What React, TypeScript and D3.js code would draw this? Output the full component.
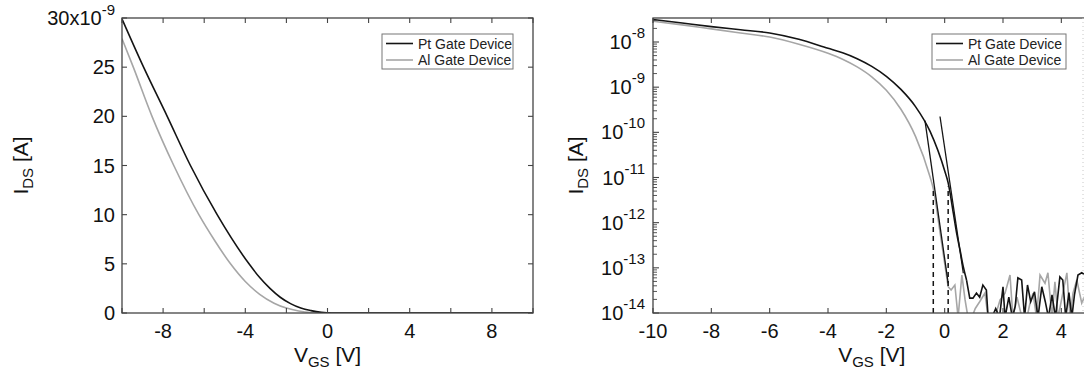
import * as d3 from 'd3';

// left panel: linear I-V, current in units of 1e-9 A
const ptLinV = [-10, -8.95, -7.8, -6.67, -5.37, -3.82, -3.3, -2.8, -2.3, -1.8, -1.3, -0.8, -0.3, 0.2, 10];
const ptLinI = [29.9, 25, 20, 15, 10, 5, 3.6, 2.5, 1.6, 0.95, 0.5, 0.24, 0.07, 0, 0];
const alLinV = [-10, -9.45, -8.54, -7.48, -6.26, -5.5, -4.72, -4, -3.3, -2.6, -2, -1.4, -0.8, 0, 10];
const alLinI = [27.9, 25, 20, 15, 10, 7.4, 5, 3.2, 1.9, 1.0, 0.5, 0.2, 0.05, 0, 0];

// right panel: log I-V, stored as log10(I)
const ptLogV = [-10, -9, -8, -7, -6, -5, -4, -3.5, -3, -2.5, -2, -1.5, -1, -0.5, 0, 0.12, 0.3, 0.41, 0.54, 0.64, 0.75];
const ptLogE = [-7.5, -7.58, -7.66, -7.73, -7.8, -7.94, -8.14, -8.24, -8.37, -8.54, -8.76, -9.05, -9.43, -9.98, -10.85, -11.12, -11.8, -12.23, -12.65, -12.98, -13.27];
const alLogV = [-10, -9, -8, -7, -6, -5, -4, -3.5, -3, -2.5, -2, -1.5, -1, -0.5, -0.39, -0.15, 0.12];
const alLogE = [-7.54, -7.62, -7.71, -7.8, -7.89, -8.05, -8.25, -8.38, -8.55, -8.77, -9.07, -9.49, -10.09, -10.99, -11.25, -12.25, -13.42];

// noise floor after turn-off
const ptNoiseV = [0.75, 0.86, 0.97, 1.09, 1.2, 1.31, 1.43, 1.49, 1.62, 1.75, 1.88, 2.0, 2.07, 2.2, 2.32, 2.42, 2.51, 2.64, 2.74, 2.84, 2.95, 3.08, 3.2, 3.33, 3.45, 3.56, 3.68, 3.8, 3.95, 4.05, 4.15, 4.26, 4.36, 4.45, 4.57, 4.7, 4.82, 5.0];
const ptNoiseE = [-13.27, -13.67, -13.67, -13.56, -13.65, -13.38, -13.49, -14.1, -14.1, -13.9, -14.1, -13.42, -14.1, -13.65, -14.1, -13.85, -13.22, -13.27, -14.1, -13.38, -13.75, -13.53, -14.1, -13.42, -13.75, -14.1, -13.6, -14.1, -13.2, -13.27, -14.1, -13.55, -14.1, -13.6, -13.16, -13.11, -13.16, -13.3];
const alNoiseV = [0.12, 0.22, 0.35, 0.46, 0.59, 0.7, 0.8, 0.93, 1.05, 1.2, 1.38, 1.49, 1.6, 1.72, 1.9, 2.07, 2.24, 2.34, 2.48, 2.65, 2.82, 2.92, 3.03, 3.15, 3.27, 3.44, 3.54, 3.68, 3.78, 3.89, 4.05, 4.19, 4.3, 4.4, 4.53, 4.7, 4.9, 5.0];
const alNoiseE = [-13.42, -13.49, -13.38, -14.1, -13.16, -13.71, -14.1, -14.1, -13.9, -13.75, -13.56, -14.1, -14.1, -14.1, -13.71, -13.56, -13.16, -14.1, -13.65, -14.1, -14.1, -13.8, -13.56, -14.1, -13.16, -13.34, -13.11, -14.1, -13.31, -14.1, -13.56, -13.11, -14.1, -13.56, -13.27, -13.78, -13.49, -13.6];

// subthreshold slope fit lines [V, log10 I] and dashed markers [V, top log10 I]
const fitLines = [
  [[-0.675, -9.74], [0.12, -13.34]],
  [[-0.16, -9.65], [0.64, -13.12]],
];
const dashedMarks = [[-0.39, -11.3], [0.12, -11.2]];

const legendLabels = ['Pt Gate Device', 'Al Gate Device'];
const linXTicks = d3.range(-10, 10.01, 2);
const linXLabels = [-8, -4, 0, 4, 8];
const linYTicks = [0, 5, 10, 15, 20, 25, 30];
const logXTicks = d3.range(-10, 4.01, 2);
const logYExps = [-14, -13, -12, -11, -10, -9, -8];

const FONT = "'Liberation Sans', Arial, sans-serif";
const BLACK = '#141414';
const GRAY = '#a6a6a6';
const FRAME = '#444';

const zip = (a: number[], b: number[]) => a.map((v, i) => [v, b[i]] as [number, number]);

function Legend({ x, y, w }: { x: number; y: number; w: number }) {
  return (
    <g>
      <rect x={x} y={y} width={w} height={35} fill="#fff" stroke="#777" strokeWidth={1} />
      {legendLabels.map((l, i) => (
        <g key={l}>
          <line x1={x + 4} x2={x + 31} y1={y + 9.5 + i * 16.5} y2={y + 9.5 + i * 16.5}
            stroke={i === 0 ? BLACK : GRAY} strokeWidth={1.6} />
          <text x={x + 36} y={y + 14.5 + i * 16.5} fontSize={14} fill="#222">{l}</text>
        </g>
      ))}
    </g>
  );
}

function LeftPanel() {
  const L = 122, R = 533, T = 18, B = 313;
  const x = d3.scaleLinear().domain([-10, 10]).range([L, R]);
  const y = d3.scaleLinear().domain([0, 30]).range([B, T]);
  const line = d3.line<[number, number]>().x(d => x(d[0])).y(d => y(d[1])).curve(d3.curveMonotoneX);
  return (
    <g>
      <defs>
        <clipPath id="clipL"><rect x={L} y={T} width={R - L} height={B - T} /></clipPath>
      </defs>
      <g clipPath="url(#clipL)" fill="none">
        <path d={line(zip(alLinV, alLinI)) || ''} stroke={GRAY} strokeWidth={1.6} />
        <path d={line(zip(ptLinV, ptLinI)) || ''} stroke={BLACK} strokeWidth={1.6} />
      </g>
      <rect x={L} y={T} width={R - L} height={B - T} fill="none" stroke={FRAME} strokeWidth={1.3} />
      {linXTicks.map(t => (
        <g key={t} stroke={FRAME} strokeWidth={1.1}>
          <line x1={x(t)} x2={x(t)} y1={B} y2={B - 5} />
          <line x1={x(t)} x2={x(t)} y1={T} y2={T + 5} />
        </g>
      ))}
      {linYTicks.map(t => (
        <g key={t} stroke={FRAME} strokeWidth={1.1}>
          <line x1={L} x2={L + 5} y1={y(t)} y2={y(t)} />
          <line x1={R} x2={R - 5} y1={y(t)} y2={y(t)} />
        </g>
      ))}
      {linXLabels.map(t => (
        <text key={t} x={x(t)} y={337.5} textAnchor="middle" fontSize={20} fill="#111">{t}</text>
      ))}
      {linYTicks.map(t => (
        <text key={t} x={L - 7} y={y(t) + 7} textAnchor="end" fontSize={20} fill="#111">
          {t === 30 ? <>30x10<tspan dy={-10} fontSize={15}>-9</tspan></> : t}
        </text>
      ))}
      <text x={(L + R) / 2} y={362} textAnchor="middle" fontSize={21} fill="#111">
        V<tspan dy={5} fontSize={15}>GS</tspan><tspan dy={-5}> [V]</tspan>
      </text>
      <text transform={`translate(28,${(T + B) / 2}) rotate(-90)`} textAnchor="middle" fontSize={21} fill="#111">
        I<tspan dy={5} fontSize={15}>DS</tspan><tspan dy={-5}> [A]</tspan>
      </text>
      <Legend x={382} y={34} w={131} />
    </g>
  );
}

function RightPanel() {
  const L = 653, R = 1090.5, T = 18, B = 313;
  const x = d3.scaleLinear().domain([-10, 5]).range([L, R]);
  const y = d3.scaleLog().domain([1e-14, 3.4e-8]).range([B, T]);
  const pt = (v: number, e: number) => [x(v), y(Math.pow(10, e))] as [number, number];
  const smooth = d3.line<[number, number]>().x(d => pt(d[0], d[1])[0]).y(d => pt(d[0], d[1])[1]).curve(d3.curveMonotoneX);
  const straight = d3.line<[number, number]>().x(d => pt(d[0], d[1])[0]).y(d => pt(d[0], d[1])[1]);
  const minors: number[] = [];
  for (let k = -14; k <= -8; k++) for (let m = 2; m <= 9; m++) if (m * Math.pow(10, k) < 3.4e-8) minors.push(m * Math.pow(10, k));
  return (
    <g>
      <defs>
        <clipPath id="clipR"><rect x={L} y={T} width={R - L} height={B - T} /></clipPath>
      </defs>
      <g clipPath="url(#clipR)" fill="none">
        <path d={smooth(zip(alLogV, alLogE)) || ''} stroke={GRAY} strokeWidth={1.6} />
        <path d={straight(zip(alNoiseV, alNoiseE)) || ''} stroke={GRAY} strokeWidth={1.6} />
        <path d={smooth(zip(ptLogV, ptLogE)) || ''} stroke={BLACK} strokeWidth={1.6} />
        <path d={straight(zip(ptNoiseV, ptNoiseE)) || ''} stroke={BLACK} strokeWidth={1.6} />
        {fitLines.map((f, i) => (
          <path key={i} d={straight(f as [number, number][]) || ''} stroke={BLACK} strokeWidth={1.3} />
        ))}
        {dashedMarks.map(([v, e], i) => (
          <line key={i} x1={x(v)} x2={x(v)} y1={B} y2={y(Math.pow(10, e))} stroke={BLACK} strokeWidth={1.5} strokeDasharray="5,4" />
        ))}
      </g>
      <rect x={L} y={T} width={R - L} height={B - T} fill="none" stroke={FRAME} strokeWidth={1.3} />
      <line x1={1083} x2={1083} y1={T} y2={B} stroke="#c8c8c8" strokeWidth={1} strokeDasharray="1,3" />
      {logXTicks.map(t => (
        <g key={t} stroke={FRAME} strokeWidth={1.1}>
          <line x1={x(t)} x2={x(t)} y1={B} y2={B - 5} />
          <line x1={x(t)} x2={x(t)} y1={T} y2={T + 5} />
        </g>
      ))}
      {logYExps.map(e => (
        <line key={e} x1={L} x2={L + 6} y1={y(Math.pow(10, e))} y2={y(Math.pow(10, e))} stroke={FRAME} strokeWidth={1.1} />
      ))}
      {minors.map(m => (
        <line key={m} x1={L} x2={L + 4} y1={y(m)} y2={y(m)} stroke={FRAME} strokeWidth={0.9} />
      ))}
      {logXTicks.map(t => (
        <text key={t} x={x(t)} y={337.5} textAnchor="middle" fontSize={20} fill="#111">{t}</text>
      ))}
      {logYExps.map(e => (
        <text key={e} x={L - 8} y={y(Math.pow(10, e)) + 7} textAnchor="end" fontSize={20} fill="#111">
          10<tspan dy={-11} fontSize={15}>{e}</tspan>
        </text>
      ))}
      <text x={(L + R) / 2} y={362} textAnchor="middle" fontSize={21} fill="#111">
        V<tspan dy={5} fontSize={15}>GS</tspan><tspan dy={-5}> [V]</tspan>
      </text>
      <text transform={`translate(583,${(T + B) / 2}) rotate(-90)`} textAnchor="middle" fontSize={21} fill="#111">
        I<tspan dy={5} fontSize={15}>DS</tspan><tspan dy={-5}> [A]</tspan>
      </text>
      <Legend x={932} y={34} w={134} />
    </g>
  );
}

export default function App() {
  return (
    <svg width={1084} height={375} style={{ position: 'absolute', left: 0, top: 0, background: '#fff' }} fontFamily={FONT}>
      <rect width={1084} height={375} fill="#fff" />
      <LeftPanel />
      <RightPanel />
    </svg>
  );
}
